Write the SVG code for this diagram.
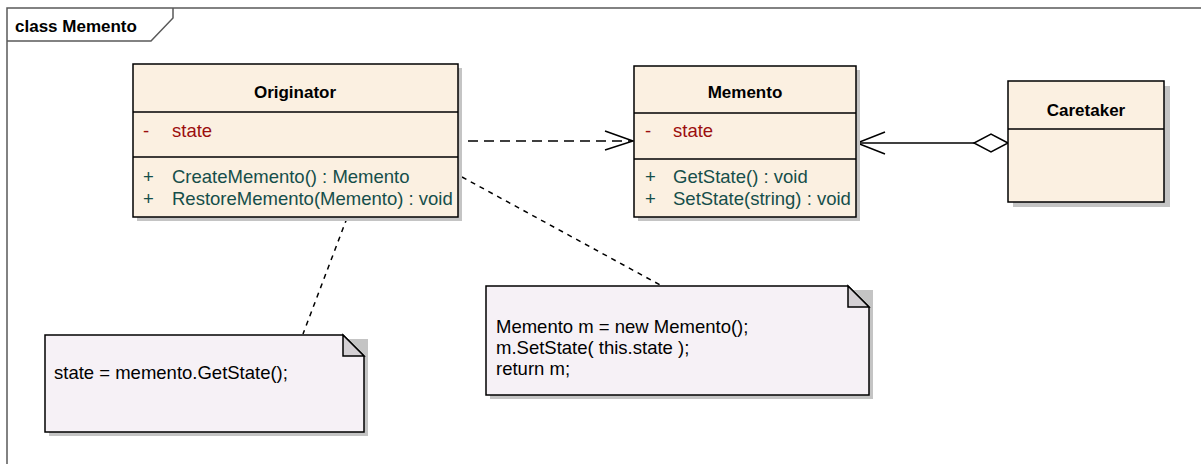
<svg xmlns="http://www.w3.org/2000/svg" width="1201" height="464" viewBox="0 0 1201 464">
<style>
.frame{fill:none;stroke:#5A5A5A;stroke-width:1.5}
.box{fill:#FBF0E1;stroke:#000;stroke-width:1.5}
.shadow{fill:#C4C4C4}
.div{stroke:#000;stroke-width:1.5}
.title{font-family:"Liberation Sans",Arial,sans-serif;font-weight:bold;font-size:17px;fill:#000;text-anchor:middle}
.attr{font-family:"Liberation Sans",Arial,sans-serif;font-size:18.5px;fill:#9B0E0E}
.op{font-family:"Liberation Sans",Arial,sans-serif;font-size:18.5px;fill:#154E4A}
.note{fill:#F6F1F6;stroke:#000;stroke-width:1.5}
.fold{fill:#D4D0D4;stroke:#000;stroke-width:1.5}
.ntext{font-family:"Liberation Sans",Arial,sans-serif;font-size:18.5px;fill:#000}
.ftext{font-family:"Liberation Sans",Arial,sans-serif;font-weight:bold;font-size:17px;fill:#000}
.solid{fill:none;stroke:#000;stroke-width:1.5}
.dash{fill:none;stroke:#000;stroke-width:1.5;stroke-dasharray:10,6}
.dot{fill:none;stroke:#000;stroke-width:1.5;stroke-dasharray:5,5}
</style>
<rect x="0" y="0" width="1201" height="464" fill="#fff"/>
<g id="frame">
<path class="frame" d="M7,464 L7,8 L1201,8"/>
<path class="frame" d="M7,41 L151,41 L173,18 L173,8"/>
<text class="ftext" x="15" y="32">class Memento</text>
</g>
<g id="connectors">
<path class="dash" d="M468,141 L631,141"/>
<path class="solid" d="M605,131 L633,141 L605,150"/>
<path class="solid" d="M857,143 L974,143"/>
<path class="solid" d="M885,132 L857,143 L885,154"/>
<path class="solid" style="fill:#fff" d="M1008,143 L991,134 L974,143 L991,152 Z"/>
<path class="dot" d="M347,218 L303,334"/>
<path class="dot" d="M462,177 L662,286"/>
</g>
<g id="originator">
<rect class="shadow" x="137" y="68" width="325" height="153"/>
<rect class="box" x="133" y="64" width="325" height="153"/>
<line class="div" x1="133" y1="112" x2="458" y2="112"/>
<line class="div" x1="133" y1="157" x2="458" y2="157"/>
<text class="title" x="295" y="98">Originator</text>
<text class="attr" x="143" y="137">-</text>
<text class="attr" x="172" y="137">state</text>
<text class="op" x="143" y="183">+</text>
<text class="op" x="172" y="183">CreateMemento() : Memento</text>
<text class="op" x="143" y="205">+</text>
<text class="op" x="172" y="205">RestoreMemento(Memento) : void</text>
</g>
<g id="memento">
<rect class="shadow" x="638" y="70" width="222" height="151"/>
<rect class="box" x="634" y="66" width="222" height="151"/>
<line class="div" x1="634" y1="113" x2="856" y2="113"/>
<line class="div" x1="634" y1="159" x2="856" y2="159"/>
<text class="title" x="745" y="98">Memento</text>
<text class="attr" x="645" y="137">-</text>
<text class="attr" x="673" y="137">state</text>
<text class="op" x="645" y="183">+</text>
<text class="op" x="673" y="183">GetState() : void</text>
<text class="op" x="645" y="205">+</text>
<text class="op" x="673" y="205">SetState(string) : void</text>
</g>
<g id="caretaker">
<rect class="shadow" x="1013" y="86" width="157" height="121"/>
<rect class="box" x="1008" y="81" width="156" height="121"/>
<line class="div" x1="1008" y1="129" x2="1164" y2="129"/>
<text class="title" x="1086" y="116">Caretaker</text>
</g>
<g id="note1">
<path class="shadow" d="M49,339 L368,339 L368,436 L49,436 Z"/>
<path class="note" d="M45,335 L343,335 L364,356 L364,432 L45,432 Z"/>
<path class="fold" d="M343,335 L343,356 L364,356 Z"/>
<text class="ntext" x="54" y="379">state = memento.GetState();</text>
</g>
<g id="note2">
<path class="shadow" d="M490,290 L873,290 L873,399 L490,399 Z"/>
<path class="note" d="M486,286 L848,286 L869,307 L869,395 L486,395 Z"/>
<path class="fold" d="M848,286 L848,307 L869,307 Z"/>
<text class="ntext" x="496" y="333">Memento m = new Memento();</text>
<text class="ntext" x="496" y="354">m.SetState( this.state );</text>
<text class="ntext" x="496" y="375">return m;</text>
</g>
</svg>
